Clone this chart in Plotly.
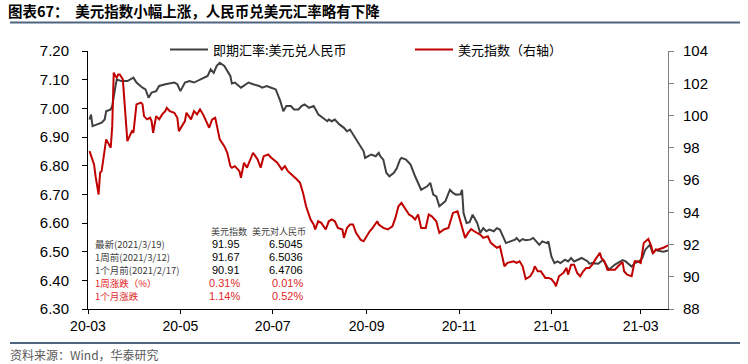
import plotly.graph_objects as go

# ---------------- data ----------------
cny_dates = ["2020-03-02","2020-03-03","2020-03-04","2020-03-07","2020-03-10","2020-03-12","2020-03-13","2020-03-16","2020-03-17","2020-03-19",
"2020-03-20","2020-03-23","2020-03-27","2020-03-31","2020-04-02","2020-04-06","2020-04-08","2020-04-10","2020-04-12","2020-04-15",
"2020-04-17","2020-04-21","2020-04-27","2020-04-29","2020-05-01","2020-05-04","2020-05-07","2020-05-10","2020-05-14","2020-05-19",
"2020-05-21","2020-05-23","2020-05-25","2020-05-27","2020-05-30","2020-06-01","2020-06-03","2020-06-04","2020-06-06","2020-06-10",
"2020-06-13","2020-06-15","2020-06-18","2020-06-22","2020-06-24","2020-06-27","2020-06-30","2020-07-03","2020-07-06","2020-07-08",
"2020-07-10","2020-07-13","2020-07-15","2020-07-18","2020-07-20","2020-07-22","2020-07-25","2020-07-28","2020-07-30","2020-07-31",
"2020-08-03","2020-08-06","2020-08-07","2020-08-09","2020-08-11","2020-08-14","2020-08-17","2020-08-19","2020-08-21","2020-08-23",
"2020-08-25","2020-08-28","2020-08-30","2020-08-31","2020-09-02","2020-09-04","2020-09-07","2020-09-09","2020-09-10","2020-09-12",
"2020-09-14","2020-09-16","2020-09-19","2020-09-21","2020-09-23","2020-09-24","2020-09-27","2020-09-30","2020-10-03","2020-10-07",
"2020-10-11","2020-10-13","2020-10-15","2020-10-17","2020-10-19","2020-10-23","2020-10-26","2020-10-28","2020-10-30","2020-11-02",
"2020-11-03","2020-11-04","2020-11-06","2020-11-08","2020-11-10","2020-11-13","2020-11-15","2020-11-17","2020-11-19","2020-11-21",
"2020-11-24","2020-11-26","2020-11-28","2020-11-30","2020-12-02","2020-12-05","2020-12-08","2020-12-09","2020-12-11","2020-12-13",
"2020-12-15","2020-12-18","2020-12-20","2020-12-22","2020-12-24","2020-12-26","2020-12-29","2020-12-30","2021-01-01","2021-01-03",
"2021-01-05","2021-01-07","2021-01-10","2021-01-12","2021-01-14","2021-01-16","2021-01-18","2021-01-21","2021-01-23","2021-01-25",
"2021-01-26","2021-01-28","2021-02-01","2021-02-04","2021-02-06","2021-02-08","2021-02-12","2021-02-15","2021-02-17","2021-02-19",
"2021-02-23","2021-02-25","2021-02-28","2021-03-02","2021-03-04","2021-03-07","2021-03-09","2021-03-11","2021-03-12","2021-03-16",
"2021-03-19"]
cny_values = [6.961,6.978,6.938,6.944,6.950,6.961,6.990,6.996,7.008,7.072,
7.101,7.095,7.095,7.107,7.090,7.072,7.066,7.037,7.055,7.060,
7.078,7.084,7.090,7.084,7.060,7.090,7.095,7.090,7.101,7.113,
7.136,7.124,7.148,7.159,7.148,7.130,7.113,7.087,7.090,7.072,
7.084,7.090,7.084,7.078,7.072,7.078,7.072,7.066,7.025,6.990,
7.008,7.008,6.996,6.996,7.008,7.014,7.002,7.008,6.990,6.979,
6.967,6.955,6.961,6.955,6.961,6.944,6.932,6.920,6.926,6.909,
6.891,6.868,6.850,6.827,6.833,6.839,6.833,6.845,6.833,6.821,
6.775,6.763,6.775,6.792,6.821,6.827,6.821,6.804,6.763,6.716,
6.728,6.740,6.699,6.693,6.658,6.676,6.716,6.705,6.699,6.700,
6.716,6.635,6.600,6.603,6.629,6.600,6.565,6.582,6.571,6.577,
6.571,6.582,6.577,6.553,6.530,6.536,6.542,6.548,6.536,6.544,
6.540,6.542,6.548,6.536,6.524,6.536,6.530,6.536,6.483,6.460,
6.466,6.460,6.472,6.466,6.478,6.466,6.472,6.478,6.472,6.466,
6.458,6.460,6.458,6.472,6.455,6.437,6.455,6.466,6.4706,6.466,
6.448,6.460,6.466,6.478,6.507,6.524,6.495,6.507,6.5036,6.500,
6.5045]

dxy_dates = ["2020-03-02","2020-03-03","2020-03-04","2020-03-05","2020-03-06","2020-03-08","2020-03-09","2020-03-10","2020-03-13","2020-03-15",
"2020-03-16","2020-03-17","2020-03-18","2020-03-19","2020-03-20","2020-03-21","2020-03-22","2020-03-24","2020-03-25","2020-03-26",
"2020-03-27","2020-03-29","2020-03-30","2020-03-31","2020-04-01","2020-04-02","2020-04-05","2020-04-06","2020-04-07","2020-04-09",
"2020-04-11","2020-04-12","2020-04-13","2020-04-15","2020-04-17","2020-04-19","2020-04-21","2020-04-22","2020-04-24","2020-04-27",
"2020-04-29","2020-04-30","2020-05-02","2020-05-04","2020-05-05","2020-05-08","2020-05-10","2020-05-12","2020-05-14","2020-05-16",
"2020-05-20","2020-05-22","2020-05-24","2020-05-25","2020-05-27","2020-05-30","2020-06-01","2020-06-03","2020-06-04","2020-06-06",
"2020-06-09","2020-06-10","2020-06-12","2020-06-14","2020-06-16","2020-06-18","2020-06-21","2020-06-23","2020-06-25","2020-06-28",
"2020-06-30","2020-07-04","2020-07-07","2020-07-09","2020-07-11","2020-07-15","2020-07-17","2020-07-19","2020-07-21","2020-07-23",
"2020-07-26","2020-07-28","2020-07-29","2020-07-31","2020-08-02","2020-08-05","2020-08-07","2020-08-09","2020-08-11","2020-08-13",
"2020-08-16","2020-08-17","2020-08-19","2020-08-21","2020-08-23","2020-08-25","2020-08-28","2020-08-30","2020-09-01","2020-09-03",
"2020-09-05","2020-09-08","2020-09-09","2020-09-12","2020-09-15","2020-09-18","2020-09-20","2020-09-22","2020-09-24","2020-09-26",
"2020-09-29","2020-10-01","2020-10-03","2020-10-05","2020-10-07","2020-10-10","2020-10-12","2020-10-14","2020-10-17","2020-10-19",
"2020-10-22","2020-10-25","2020-10-28","2020-10-31","2020-11-03","2020-11-05","2020-11-07","2020-11-09","2020-11-11","2020-11-15",
"2020-11-17","2020-11-20","2020-11-22","2020-11-26","2020-11-28","2020-11-30","2020-12-01","2020-12-03","2020-12-07","2020-12-09",
"2020-12-11","2020-12-13","2020-12-15","2020-12-18","2020-12-20","2020-12-21","2020-12-23","2020-12-25","2020-12-28","2020-12-30",
"2021-01-01","2021-01-03","2021-01-04","2021-01-06","2021-01-09","2021-01-11","2021-01-12","2021-01-14","2021-01-16","2021-01-18",
"2021-01-20","2021-01-22","2021-01-24","2021-01-26","2021-01-28","2021-01-30","2021-02-02","2021-02-03","2021-02-05","2021-02-07",
"2021-02-09","2021-02-12","2021-02-14","2021-02-16","2021-02-17","2021-02-18","2021-02-20","2021-02-23","2021-02-25","2021-02-27",
"2021-03-01","2021-03-03","2021-03-06","2021-03-08","2021-03-09","2021-03-11","2021-03-12","2021-03-16","2021-03-19"]
dxy_values = [97.79,97.48,97.17,96.96,96.24,95.10,96.45,96.55,98.52,98.10,
98.00,99.34,102.66,102.45,102.35,102.55,102.55,102.24,101.00,99.55,
98.41,98.83,99.03,98.93,99.76,100.69,100.80,100.69,99.96,99.76,
99.86,99.65,98.93,99.96,99.76,100.07,100.27,100.48,100.27,100.17,
99.86,99.03,99.34,99.65,100.17,99.76,100.27,100.07,100.38,100.07,
99.24,99.76,99.86,99.34,98.52,98.10,97.69,96.86,96.76,96.86,
96.55,96.14,97.07,96.76,97.17,97.69,97.27,96.76,97.48,97.58,
97.38,97.07,96.65,96.86,96.55,96.24,96.03,95.83,95.20,94.37,
93.55,93.24,92.93,93.44,93.34,92.93,93.44,93.55,93.44,93.03,
92.93,92.41,93.03,93.24,93.24,92.72,92.30,92.20,92.51,92.82,
93.03,93.44,93.24,93.03,92.93,93.13,93.65,94.37,94.58,94.27,
93.86,93.75,93.55,93.86,93.03,93.03,93.86,93.75,93.44,92.72,
92.93,93.03,93.96,94.06,93.13,92.41,92.72,92.96,92.82,92.61,
92.41,92.51,92.10,91.79,91.89,91.17,90.65,90.86,90.96,90.86,
90.96,90.65,89.86,90.03,90.34,90.65,90.34,90.34,89.93,89.93,
89.86,89.62,89.41,90.03,90.24,90.55,90.13,90.75,90.75,90.24,
90.03,90.34,90.55,90.55,90.75,91.06,91.48,91.17,90.96,90.44,
90.44,90.44,90.65,90.86,90.91,90.34,90.13,90.03,90.96,90.96,
90.86,92.10,92.35,91.89,91.44,91.68,91.67,91.80,91.95]

series_names = ["即期汇率:美元兑人民币", "美元指数（右轴）"]
x_tick_labels = ["20-03", "20-05", "20-07", "20-09", "20-11", "21-01", "21-03"]
x_tick_dates = ["2020-03-01", "2020-05-01", "2020-07-01", "2020-09-01", "2020-11-01", "2021-01-01", "2021-03-01"]

table_header = ["美元指数", "美元对人民币"]
table_rows = ["最新(2021/3/19)", "1周前(2021/3/12)", "1个月前(2021/2/17)", "1周涨跌（%）", "1个月涨跌"]
table_dxy = ["91.95", "91.67", "90.91", "0.31%", "1.14%"]
table_cny = ["6.5045", "6.5036", "6.4706", "0.01%", "0.52%"]
table_is_change = [False, False, False, True, True]

title_text = "图表67：  美元指数小幅上涨，人民币兑美元汇率略有下降"
source_text = "资料来源：Wind，华泰研究"

# ---------------- figure ----------------
W, H = 748, 364
L, R, T, B = 88, 80, 51, 55
PW, PH = W - L - R, H - T - B

def px(xp):
    return (xp - L) / PW

def py(yp):
    return (H - B - yp) / PH

GRAY = "#404040"
RED = "#C00000"
RULE = "#4F6580"
CJK = "Noto Sans CJK SC, sans-serif"
LAT = "Liberation Sans, Arial, sans-serif"
colors = [GRAY, RED]

fig = go.Figure()
fig.add_trace(go.Scatter(x=cny_dates, y=cny_values, name=series_names[0], mode="lines",
                         line=dict(color=GRAY, width=2), yaxis="y", showlegend=False))
fig.add_trace(go.Scatter(x=dxy_dates, y=dxy_values, name=series_names[1], mode="lines",
                         line=dict(color=RED, width=2), yaxis="y2", showlegend=False))

annotations = []
shapes = []

# legend (manual)
leg_x = [170, 415]
for i, nm in enumerate(series_names):
    shapes.append(dict(type="line", xref="paper", yref="paper", x0=px(leg_x[i]), x1=px(leg_x[i] + 38),
                       y0=py(49.5), y1=py(49.5), line=dict(color=colors[i], width=2)))
    annotations.append(dict(text=nm, xref="paper", yref="paper", x=px(leg_x[i] + 41), y=py(49.5),
                            xanchor="left", yanchor="middle", showarrow=False,
                            font=dict(family=CJK, size=13, color="#000000")))

# table
row_y = [243.5, 256.6, 269.5, 282.5, 295.6]
annotations.append(dict(text=table_header[0], xref="paper", yref="paper", x=px(229), y=py(231.5),
                        xanchor="center", yanchor="middle", showarrow=False,
                        font=dict(family=CJK, size=9, color="#404040")))
annotations.append(dict(text=table_header[1], xref="paper", yref="paper", x=px(279), y=py(231.5),
                        xanchor="center", yanchor="middle", showarrow=False,
                        font=dict(family=CJK, size=9, color="#404040")))
for i, lab in enumerate(table_rows):
    col = "#E02828" if table_is_change[i] else "#404040"
    numcol = "#E02828" if table_is_change[i] else "#000000"
    annotations.append(dict(text=lab, xref="paper", yref="paper", x=px(93), y=py(row_y[i]),
                            xanchor="left", yanchor="middle", showarrow=False,
                            font=dict(family=CJK, size=9.5, color=col)))
    annotations.append(dict(text=table_dxy[i], xref="paper", yref="paper", x=px(242), y=py(row_y[i]),
                            xanchor="right", yanchor="middle", showarrow=False,
                            font=dict(family=LAT, size=11, color=numcol)))
    annotations.append(dict(text=table_cny[i], xref="paper", yref="paper", x=px(305), y=py(row_y[i]),
                            xanchor="right", yanchor="middle", showarrow=False,
                            font=dict(family=LAT, size=11, color=numcol)))

annotations.append(dict(text=source_text, xref="paper", yref="paper", x=px(8), y=py(354),
                        xanchor="left", yanchor="middle", showarrow=False,
                        font=dict(family=CJK, size=12, color="#595959")))

# title underline and footer rule
for ry in (22.5, 343):
    shapes.append(dict(type="line", xref="paper", yref="paper", layer="above",
                       x0=px(10), x1=px(740), y0=py(ry), y1=py(ry),
                       line=dict(color=RULE, width=2)))

fig.update_layout(
    width=W, height=H,
    margin=dict(l=L, r=R, t=T, b=B),
    paper_bgcolor="white", plot_bgcolor="white",
    title=dict(text="<b>" + title_text + "</b>", xref="container", yref="container",
               x=8 / W, y=1 - 12 / H, xanchor="left", yanchor="middle",
               font=dict(family=CJK, size=14.5, color="#000000")),
    showlegend=False,
    xaxis=dict(type="date", range=["2020-03-01", "2021-03-19"],
               tickvals=x_tick_dates, ticktext=x_tick_labels,
               showline=True, linecolor="#000000", linewidth=1,
               ticks="outside", ticklen=4, tickcolor="#000000",
               showgrid=False, zeroline=False,
               tickfont=dict(family=LAT, size=14, color="#000000")),
    yaxis=dict(range=[6.30, 7.20], dtick=0.1, tick0=6.30, tickformat=".2f",
               showline=True, linecolor="#000000", linewidth=1,
               ticks="outside", ticklen=5, tickcolor="#000000",
               ticklabelstandoff=10,
               showgrid=False, zeroline=False,
               tickfont=dict(family=LAT, size=15, color="#000000")),
    yaxis2=dict(range=[88, 104], dtick=2, tick0=88, overlaying="y", side="right",
                showline=True, linecolor="#808080", linewidth=1,
                ticks="outside", ticklen=5, tickcolor="#808080",
                ticklabelstandoff=6,
                showgrid=False, zeroline=False,
                tickfont=dict(family=LAT, size=15, color="#000000")),
    annotations=annotations,
    shapes=shapes,
)

fig.write_html("out.html", config={"displayModeBar": False},
               post_script="document.body.style.margin='0';document.body.style.overflow='hidden';")
